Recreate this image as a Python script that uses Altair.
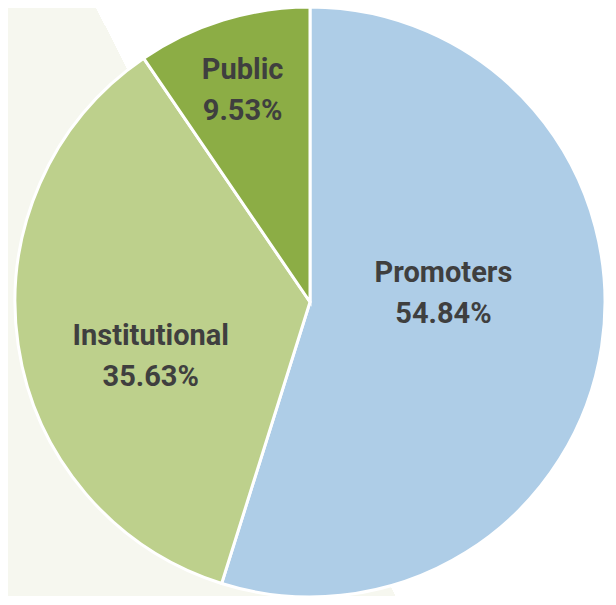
import altair as alt
import pandas as pd

# ---- data ----
categories = ["Promoters", "Institutional", "Public"]
shares = [54.84, 35.63, 9.53]
share_labels = ["54.84%", "35.63%", "9.53%"]
slice_order = [0, 1, 2]
colors = ["#aecde7", "#bdd08c", "#8cad45"]

BEIGE = "#f6f7ef"
TEXT = "#3f3f3f"
FONT = "Roboto"

df = pd.DataFrame({
    "category": categories,
    "share": shares,
    "label": share_labels,
    "order": slice_order,
})

W, H = 600, 588
CX, CY, R = 302, 294, 295

# decorative background (diagonal split beige / white)
bg = alt.Chart(pd.DataFrame({"k": [0]})).mark_rect(
    fill=alt.LinearGradient(
        gradient="linear",
        stops=[
            alt.GradientStop(color=BEIGE, offset=0),
            alt.GradientStop(color=BEIGE, offset=0.3173),
            alt.GradientStop(color="white", offset=0.3173),
            alt.GradientStop(color="white", offset=1),
        ],
        x1=0, y1=0.5, x2=1, y2=0.0011,
    )
).encode(x=alt.value(0), x2=alt.value(W), y=alt.value(0), y2=alt.value(H))

pie = alt.Chart(df).mark_arc(
    x=CX, y=CY, outerRadius=R, stroke="white", strokeWidth=3
).encode(
    theta=alt.Theta("share:Q", stack=True),
    order=alt.Order("order:Q"),
    color=alt.Color("category:N", scale=alt.Scale(domain=categories, range=colors), legend=None),
)

label_base = alt.Chart(df).transform_joinaggregate(
    total="sum(share)"
).transform_window(
    cum="sum(share)", sort=[alt.SortField("order")]
).transform_calculate(
    mid="(datum.cum - datum.share / 2) / datum.total",
    txt="[datum.category, datum.label]",
)

def label_layer(cat, radius, dx, dy):
    return label_base.transform_filter(
        alt.datum.category == cat
    ).mark_text(
        x=CX, y=CY, radius=radius, dx=dx, dy=dy,
        font=FONT, fontSize=29, fontWeight="bold", color=TEXT,
        align="center", baseline="middle", lineHeight=41,
    ).encode(
        theta=alt.Theta("mid:Q", scale=alt.Scale(domain=[0, 1])),
        text="txt:N",
    )

t1 = label_layer("Promoters", 135, 0, -49)
t2 = label_layer("Institutional", 160, -1, 11)
t3 = label_layer("Public", 225, -1, -17)

chart = alt.layer(bg, pie, t1, t2, t3).resolve_scale(
    theta="independent"
).properties(
    width=W, height=H, autosize="none", padding=0
).configure_view(strokeWidth=0)

chart.save("out.html", embed_options={"renderer": "svg", "actions": False})
